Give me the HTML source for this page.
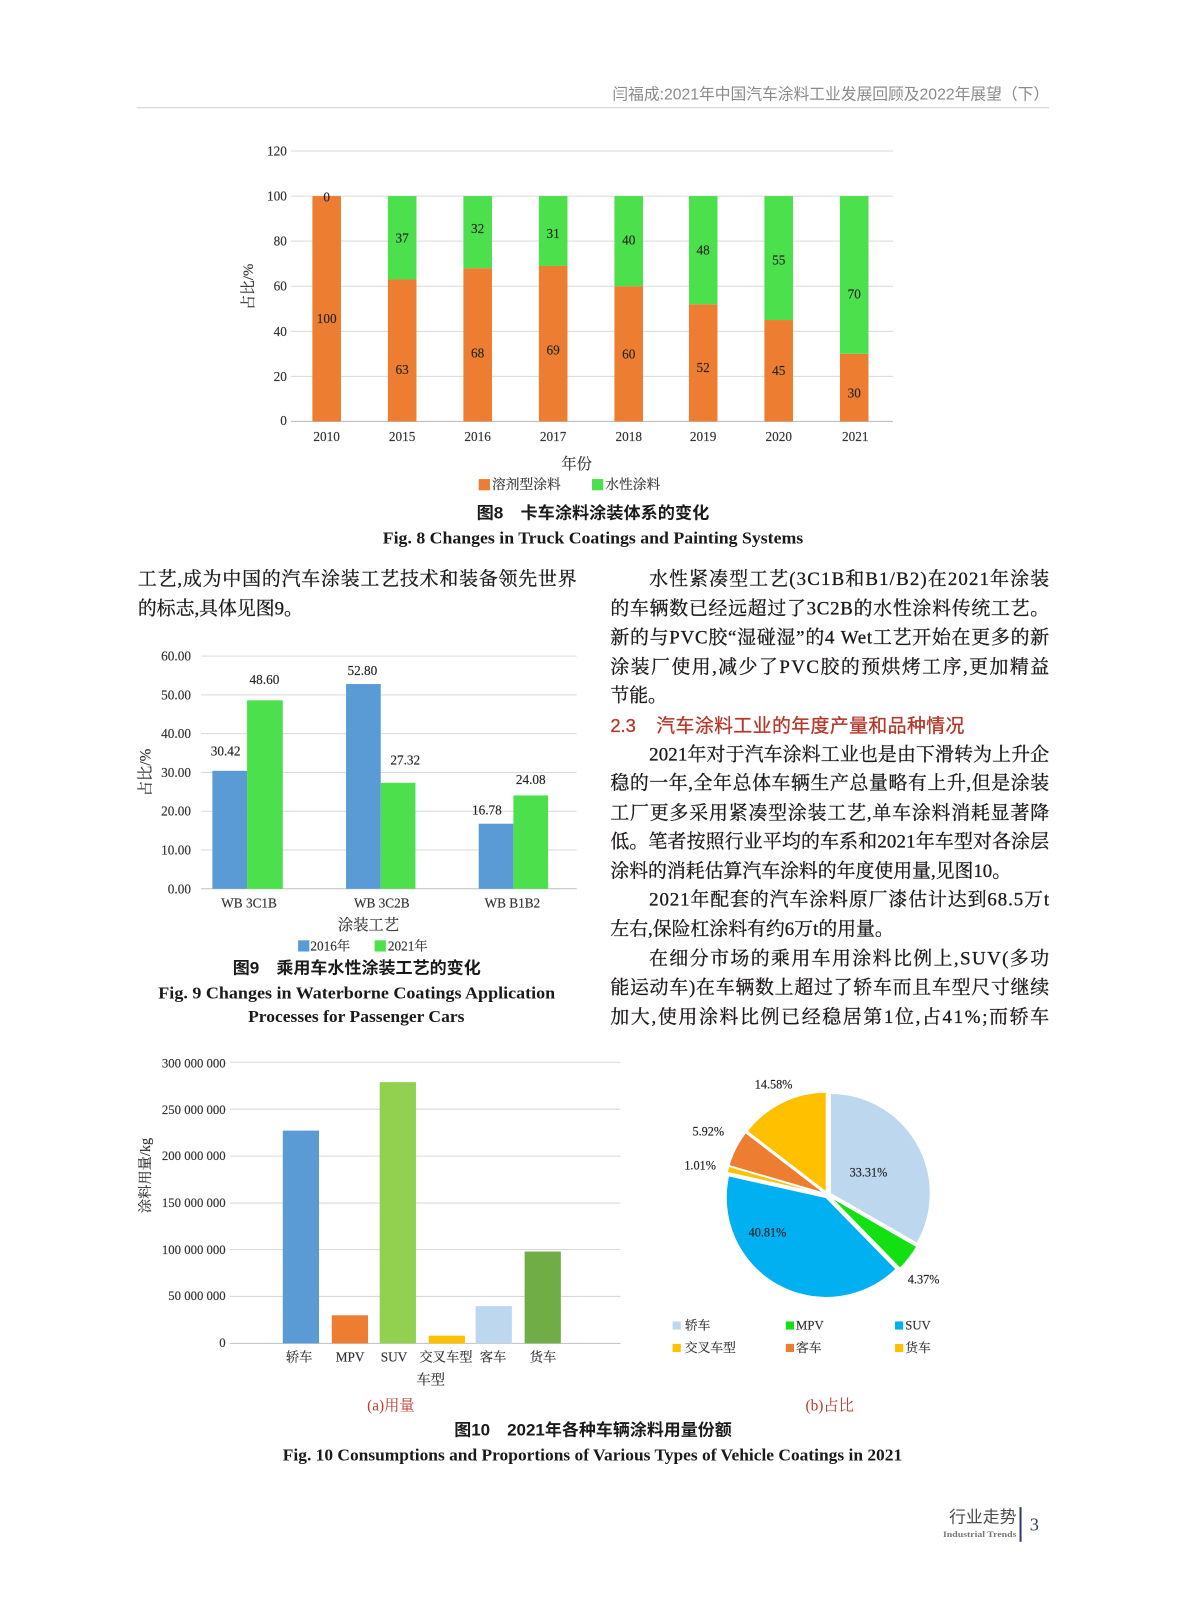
<!DOCTYPE html>
<html><head><meta charset="utf-8">
<style>
html,body{margin:0;padding:0;background:#fff;width:1187px;height:1600px;overflow:hidden;}
svg{display:block;}
.s{font-family:"Liberation Serif","Noto Serif CJK SC",serif;}
.h{font-family:"Liberation Sans","Noto Sans CJK SC",sans-serif;}
</style></head>
<body>
<svg width="1187" height="1600" viewBox="0 0 1163 1568">
<rect x="0" y="0" width="1163" height="1568" fill="#fff"/>

<text class="h" x="600" y="93" font-size="15.5" fill="#8a8a8a" dominant-baseline="central" textLength="428" lengthAdjust="spacingAndGlyphs">闫福成:2021年中国汽车涂料工业发展回顾及2022年展望（下）</text>
<line x1="134" y1="105.5" x2="1028" y2="105.5" stroke="#d8d8d8" stroke-width="1.2"/>

<g class="s" font-size="13" fill="#333" stroke="#333" stroke-width="0.15">
  <g stroke="#d9d9d9" stroke-width="1">
    <line x1="285" y1="148" x2="875" y2="148"/>
    <line x1="285" y1="192.2" x2="875" y2="192.2"/>
    <line x1="285" y1="236.3" x2="875" y2="236.3"/>
    <line x1="285" y1="280.5" x2="875" y2="280.5"/>
    <line x1="285" y1="324.7" x2="875" y2="324.7"/>
    <line x1="285" y1="368.8" x2="875" y2="368.8"/>
  </g>
  <line x1="285" y1="413" x2="875" y2="413" stroke="#bfbfbf" stroke-width="1"/>
  <g text-anchor="end" dominant-baseline="central">
    <text x="281" y="148">120</text>
    <text x="281" y="192.2">100</text>
    <text x="281" y="236.3">80</text>
    <text x="281" y="280.5">60</text>
    <text x="281" y="324.7">40</text>
    <text x="281" y="368.8">20</text>
    <text x="281" y="412">0</text>
  </g>
  <text x="244" y="281" font-size="14.5" text-anchor="middle" dominant-baseline="central" transform="rotate(-90 244 281)">占比/%</text>
  <g fill="#ED7D31" stroke="none">
    <rect x="306" y="192.17" width="28" height="220.83"/>
    <rect x="380" y="273.88" width="28" height="139.12"/>
    <rect x="454" y="262.84" width="28" height="150.16"/>
    <rect x="528" y="260.63" width="28" height="152.37"/>
    <rect x="602" y="280.5" width="28" height="132.5"/>
    <rect x="675" y="298.17" width="28" height="114.83"/>
    <rect x="749" y="313.63" width="28" height="99.37"/>
    <rect x="823" y="346.75" width="28" height="66.25"/>
  </g>
  <g fill="#4CE04C" stroke="none">
    <rect x="380" y="192.17" width="28" height="81.71"/>
    <rect x="454" y="192.17" width="28" height="70.67"/>
    <rect x="528" y="192.17" width="28" height="68.46"/>
    <rect x="602" y="192.17" width="28" height="88.33"/>
    <rect x="675" y="192.17" width="28" height="106"/>
    <rect x="749" y="192.17" width="28" height="121.46"/>
    <rect x="823" y="192.17" width="28" height="154.58"/>
  </g>
  <g text-anchor="middle" dominant-baseline="central" fill="#222">
    <text x="320" y="193">0</text>
    <text x="320" y="312">100</text>
    <text x="394" y="233">37</text>
    <text x="394" y="362">63</text>
    <text x="468" y="224">32</text>
    <text x="468" y="346">68</text>
    <text x="542" y="229">31</text>
    <text x="542" y="343">69</text>
    <text x="616" y="235">40</text>
    <text x="616" y="347">60</text>
    <text x="689" y="245">48</text>
    <text x="689" y="360">52</text>
    <text x="763" y="255">55</text>
    <text x="763" y="363">45</text>
    <text x="837" y="288">70</text>
    <text x="837" y="385">30</text>
  </g>
  <g text-anchor="middle" dominant-baseline="central">
    <text x="320" y="428">2010</text>
    <text x="394" y="428">2015</text>
    <text x="468" y="428">2016</text>
    <text x="542" y="428">2017</text>
    <text x="616" y="428">2018</text>
    <text x="689" y="428">2019</text>
    <text x="763" y="428">2020</text>
    <text x="838" y="428">2021</text>
  </g>
  <text x="565" y="455" font-size="15" text-anchor="middle" dominant-baseline="central">年份</text>
  <rect x="469" y="469.5" width="11" height="11" fill="#ED7D31" stroke="none"/>
  <text x="482" y="475" font-size="13.5" dominant-baseline="central">溶剂型涂料</text>
  <rect x="580" y="469.5" width="11" height="11" fill="#4CE04C" stroke="none"/>
  <text x="593" y="475" font-size="13.5" dominant-baseline="central">水性涂料</text>
</g>
<text class="h" x="467" y="503" font-size="16" font-weight="bold" fill="#1a1a1a" dominant-baseline="central" textLength="228" lengthAdjust="spacingAndGlyphs">图8　卡车涂料涂装体系的变化</text>
<text class="s" x="375" y="527" font-size="16" font-weight="bold" fill="#1a1a1a" dominant-baseline="central" textLength="412" lengthAdjust="spacingAndGlyphs">Fig. 8   Changes in Truck Coatings and Painting Systems</text>

<g class="s" font-size="18.5" fill="#1e1a1b" stroke="#1e1a1b" stroke-width="0.3" dominant-baseline="central">
  <text x="135" y="568" textLength="430" lengthAdjust="spacing">工艺,成为中国的汽车涂装工艺技术和装备领先世界</text>
  <text x="135" y="597">的标志,具体见图9。</text>
  <text x="636" y="568" textLength="392" lengthAdjust="spacing">水性紧凑型工艺(3C1B和B1/B2)在2021年涂装</text>
  <text x="598" y="597" textLength="430" lengthAdjust="spacing">的车辆数已经远超过了3C2B的水性涂料传统工艺。</text>
  <text x="598" y="625" textLength="430" lengthAdjust="spacing">新的与PVC胶“湿碰湿”的4 Wet工艺开始在更多的新</text>
  <text x="598" y="654" textLength="430" lengthAdjust="spacing">涂装厂使用,减少了PVC胶的预烘烤工序,更加精益</text>
  <text x="598" y="682">节能。</text>
  <text x="636" y="740" textLength="392" lengthAdjust="spacing">2021年对于汽车涂料工业也是由下滑转为上升企</text>
  <text x="598" y="768" textLength="430" lengthAdjust="spacing">稳的一年,全年总体车辆生产总量略有上升,但是涂装</text>
  <text x="598" y="797" textLength="430" lengthAdjust="spacing">工厂更多采用紧凑型涂装工艺,单车涂料消耗显著降</text>
  <text x="598" y="825" textLength="430" lengthAdjust="spacing">低。笔者按照行业平均的车系和2021年车型对各涂层</text>
  <text x="598" y="854">涂料的消耗估算汽车涂料的年度使用量,见图10。</text>
  <text x="636" y="882" textLength="392" lengthAdjust="spacing">2021年配套的汽车涂料原厂漆估计达到68.5万t</text>
  <text x="598" y="911">左右,保险杠涂料有约6万t的用量。</text>
  <text x="636" y="940" textLength="392" lengthAdjust="spacing">在细分市场的乘用车用涂料比例上,SUV(多功</text>
  <text x="598" y="968" textLength="430" lengthAdjust="spacing">能运动车)在车辆数上超过了轿车而且车型尺寸继续</text>
  <text x="598" y="997" textLength="430" lengthAdjust="spacing">加大,使用涂料比例已经稳居第1位,占41%;而轿车</text>
</g>
<g class="h" font-size="18.5" fill="#b5372a" stroke="#b5372a" stroke-width="0.3" dominant-baseline="central">
  <text x="598" y="711" textLength="25" lengthAdjust="spacingAndGlyphs">2.3</text>
  <text x="643" y="711" textLength="302" lengthAdjust="spacing">汽车涂料工业的年度产量和品种情况</text>
</g>

<g class="s" font-size="13" fill="#333" stroke="#333" stroke-width="0.15">
  <g stroke="#d9d9d9" stroke-width="1">
    <line x1="197" y1="643" x2="565" y2="643"/>
    <line x1="197" y1="681" x2="565" y2="681"/>
    <line x1="197" y1="719" x2="565" y2="719"/>
    <line x1="197" y1="757" x2="565" y2="757"/>
    <line x1="197" y1="795" x2="565" y2="795"/>
    <line x1="197" y1="833" x2="565" y2="833"/>
  </g>
  <line x1="197" y1="871" x2="565" y2="871" stroke="#bfbfbf" stroke-width="1"/>
  <g text-anchor="end" dominant-baseline="central">
    <text x="187" y="643">60.00</text>
    <text x="187" y="681">50.00</text>
    <text x="187" y="719">40.00</text>
    <text x="187" y="757">30.00</text>
    <text x="187" y="795">20.00</text>
    <text x="187" y="833">10.00</text>
    <text x="187" y="871">0.00</text>
  </g>
  <text x="143" y="757" font-size="15" text-anchor="middle" dominant-baseline="central" transform="rotate(-90 143 757)">占比/%</text>
  <g fill="#5B9BD5" stroke="none">
    <rect x="208" y="755.4" width="34" height="115.6"/>
    <rect x="339" y="670.36" width="34" height="200.64"/>
    <rect x="469" y="807.24" width="34" height="63.76"/>
  </g>
  <g fill="#4CE04C" stroke="none">
    <rect x="242" y="686.3" width="35" height="184.7"/>
    <rect x="373" y="767.18" width="34" height="103.82"/>
    <rect x="503" y="779.5" width="34" height="91.5"/>
  </g>
  <g text-anchor="middle" dominant-baseline="central" fill="#222">
    <text x="221" y="736">30.42</text>
    <text x="259" y="666">48.60</text>
    <text x="355" y="657">52.80</text>
    <text x="397" y="745">27.32</text>
    <text x="477" y="794">16.78</text>
    <text x="520" y="764">24.08</text>
  </g>
  <g text-anchor="middle" dominant-baseline="central">
    <text x="244" y="885">WB 3C1B</text>
    <text x="374" y="885">WB 3C2B</text>
    <text x="502" y="885">WB B1B2</text>
  </g>
  <text x="361" y="907" font-size="15" text-anchor="middle" dominant-baseline="central">涂装工艺</text>
  <rect x="292" y="921.5" width="11" height="11" fill="#5B9BD5" stroke="none"/>
  <text x="304" y="927" dominant-baseline="central">2016年</text>
  <rect x="367" y="921.5" width="11" height="11" fill="#4CE04C" stroke="none"/>
  <text x="380" y="927" dominant-baseline="central">2021年</text>
</g>
<text class="h" x="228" y="949" font-size="16" font-weight="bold" fill="#1a1a1a" dominant-baseline="central" textLength="243" lengthAdjust="spacingAndGlyphs">图9　乘用车水性涂装工艺的变化</text>
<text class="s" x="155" y="973" font-size="16" font-weight="bold" fill="#1a1a1a" dominant-baseline="central" textLength="389" lengthAdjust="spacingAndGlyphs">Fig. 9    Changes in Waterborne Coatings Application</text>
<text class="s" x="243" y="996" font-size="16" font-weight="bold" fill="#1a1a1a" dominant-baseline="central" textLength="212" lengthAdjust="spacingAndGlyphs">Processes for Passenger Cars</text>

<g class="s" font-size="12.5" fill="#333" stroke="#333" stroke-width="0.15">
  <g stroke="#d9d9d9" stroke-width="1">
    <line x1="225" y1="1041" x2="608" y2="1041"/>
    <line x1="225" y1="1087" x2="608" y2="1087"/>
    <line x1="225" y1="1133" x2="608" y2="1133"/>
    <line x1="225" y1="1179" x2="608" y2="1179"/>
    <line x1="225" y1="1224.5" x2="608" y2="1224.5"/>
    <line x1="225" y1="1270.5" x2="608" y2="1270.5"/>
  </g>
  <line x1="225" y1="1316.5" x2="608" y2="1316.5" stroke="#bfbfbf" stroke-width="1"/>
  <g text-anchor="end" dominant-baseline="central">
    <text x="221" y="1042">300 000 000</text>
    <text x="221" y="1088">250 000 000</text>
    <text x="221" y="1133">200 000 000</text>
    <text x="221" y="1179">150 000 000</text>
    <text x="221" y="1225">100 000 000</text>
    <text x="221" y="1270">50 000 000</text>
    <text x="221" y="1316">0</text>
  </g>
  <text x="143" y="1152" font-size="14" text-anchor="middle" dominant-baseline="central" transform="rotate(-90 143 1152)">涂料用量/kg</text>
  <g stroke="none">
  <rect x="277" y="1108" width="35.5" height="208.5" fill="#5B9BD5"/>
  <rect x="325" y="1289" width="35.5" height="27.5" fill="#ED7D31"/>
  <rect x="372" y="1060.5" width="35.5" height="256" fill="#92D050"/>
  <rect x="420" y="1309" width="35.5" height="7.5" fill="#FFC000"/>
  <rect x="466" y="1280" width="35.5" height="36.5" fill="#BDD7EE"/>
  <rect x="514" y="1226.5" width="35.5" height="90" fill="#70AD47"/>
  </g>
  <g text-anchor="middle" dominant-baseline="central" font-size="13">
    <text x="293" y="1330">轿车</text>
    <text x="343" y="1330">MPV</text>
    <text x="386" y="1330">SUV</text>
    <text x="437" y="1330">交叉车型</text>
    <text x="483" y="1330">客车</text>
    <text x="532" y="1330">货车</text>
  </g>
  <text x="422" y="1353" font-size="14" text-anchor="middle" dominant-baseline="central">车型</text>
</g>

<g stroke="#fff" stroke-width="1.2">
  <path transform="translate(2.6,-1.5)" d="M811,1171 L811,1073 A98,98 0 0 1 895.94,1219.88 Z" fill="#BDD7EE"/>
  <path transform="translate(2.4,1.8)" d="M811,1171 L895.94,1219.88 A98,98 0 0 1 879.51,1241.08 Z" fill="#12E012"/>
  <path transform="translate(-1.5,2.6)" d="M811,1171 L879.51,1241.08 A98,98 0 0 1 715.35,1149.68 Z" fill="#00B0F0"/>
  <path transform="translate(-2.9,-0.7)" d="M811,1171 L715.35,1149.68 A98,98 0 0 1 716.89,1143.66 Z" fill="#FFC000"/>
  <path transform="translate(-2.7,-1.4)" d="M811,1171 L716.89,1143.66 A98,98 0 0 1 733.26,1111.33 Z" fill="#ED7D31"/>
  <path transform="translate(-1.3,-2.7)" d="M811,1171 L733.26,1111.33 A98,98 0 0 1 811,1073 Z" fill="#FFC000"/>
</g>
<g class="s" font-size="12" fill="#222" stroke="#222" stroke-width="0.15" text-anchor="middle" dominant-baseline="central">
  <text x="851" y="1149">33.31%</text>
  <text x="752" y="1208">40.81%</text>
  <text x="905" y="1254">4.37%</text>
  <text x="686" y="1142">1.01%</text>
  <text x="694" y="1109">5.92%</text>
  <text x="758" y="1063">14.58%</text>
</g>
<g class="s" font-size="12.5" fill="#333" stroke="#333" stroke-width="0.15" dominant-baseline="central">
  <rect x="659" y="1295" width="8" height="8" fill="#BDD7EE" stroke="none"/>
  <text x="671" y="1299">轿车</text>
  <rect x="770" y="1295" width="8" height="8" fill="#12E012" stroke="none"/>
  <text x="780" y="1299">MPV</text>
  <rect x="877" y="1295" width="8" height="8" fill="#00B0F0" stroke="none"/>
  <text x="887" y="1299">SUV</text>
  <rect x="659" y="1317" width="8" height="8" fill="#FFC000" stroke="none"/>
  <text x="671" y="1321">交叉车型</text>
  <rect x="770" y="1317" width="8" height="8" fill="#ED7D31" stroke="none"/>
  <text x="780" y="1321">客车</text>
  <rect x="877" y="1317" width="8" height="8" fill="#FFC000" stroke="none"/>
  <text x="887" y="1321">货车</text>
</g>

<g class="s" font-size="15" fill="#c0392b" text-anchor="middle" dominant-baseline="central">
  <text x="383" y="1378">(a)用量</text>
  <text x="813" y="1378">(b)占比</text>
</g>
<text class="h" x="445" y="1402" font-size="16" font-weight="bold" fill="#1a1a1a" dominant-baseline="central" textLength="272" lengthAdjust="spacingAndGlyphs">图10　2021年各种车辆涂料用量份额</text>
<text class="s" x="277" y="1426" font-size="16" font-weight="bold" fill="#1a1a1a" dominant-baseline="central" textLength="607" lengthAdjust="spacingAndGlyphs">Fig. 10 Consumptions and Proportions of Various Types of Vehicle Coatings in 2021</text>

<text class="h" x="930" y="1487" font-size="16" fill="#4a4a4a" dominant-baseline="central" textLength="66" lengthAdjust="spacingAndGlyphs">行业走势</text>
<text class="s" x="924" y="1504" font-size="8" font-weight="bold" fill="#777" dominant-baseline="central" textLength="72" lengthAdjust="spacingAndGlyphs">Industrial Trends</text>
<line x1="1000" y1="1477" x2="1000" y2="1511" stroke="#2e3f66" stroke-width="2"/>
<text class="s" x="1009" y="1494" font-size="18" fill="#2e3f66" dominant-baseline="central">3</text>
</svg>
</body></html>
